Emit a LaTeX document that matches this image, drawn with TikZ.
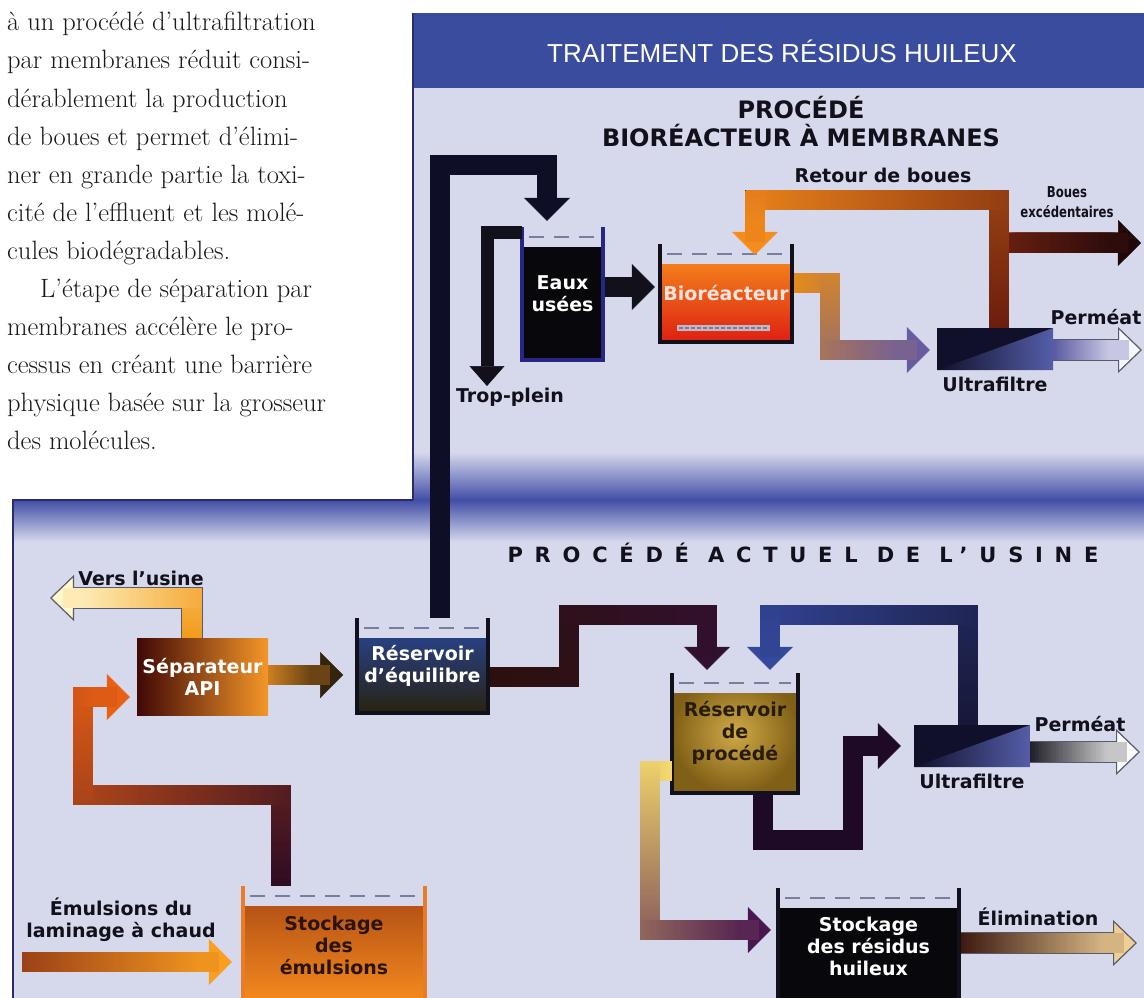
\documentclass[tikz,border=0pt]{standalone}
\usepackage{fontspec}
\setsansfont{DejaVu Sans}
\newfontfamily\headfont{Liberation Sans}
\newfontfamily\condfont{DejaVu Sans}[FakeStretch=0.78]
\newfontfamily\spacedfont{DejaVu Sans}[LetterSpace=56]
\usetikzlibrary{arrows.meta,positioning,decorations.markings}

% colours
\definecolor{panel}{RGB}{214,217,236}
\definecolor{headblue}{RGB}{58,76,158}
\definecolor{bandblue}{RGB}{66,78,166}
\definecolor{frame}{RGB}{40,44,110}
\definecolor{ink}{RGB}{18,16,26}
\definecolor{bodytext}{RGB}{28,24,24}
\definecolor{levelgray}{RGB}{120,126,160}
\definecolor{edge}{RGB}{90,90,104}
\definecolor{wallblue}{RGB}{38,38,132}
\definecolor{wallorange}{RGB}{232,124,40}
\definecolor{tankblack}{RGB}{8,8,12}
\definecolor{bioT}{RGB}{248,150,30}
\definecolor{bioB}{RGB}{222,32,18}
\definecolor{biotext}{RGB}{253,228,222}
\definecolor{reseqT}{RGB}{40,72,160}
\definecolor{reseqB}{RGB}{40,34,16}
\definecolor{procIn}{RGB}{208,170,72}
\definecolor{procOut}{RGB}{128,96,22}
\definecolor{proctext}{RGB}{40,28,8}
\definecolor{emT}{RGB}{170,72,20}
\definecolor{emB}{RGB}{246,140,30}
\definecolor{emtext}{RGB}{42,20,8}
\definecolor{sepdark}{RGB}{64,8,6}
\definecolor{sepmid}{RGB}{176,66,18}
\definecolor{sepor}{RGB}{244,150,40}
\definecolor{ufdark}{RGB}{16,16,42}
\definecolor{uflight}{RGB}{84,94,168}
\definecolor{diffuse}{RGB}{196,182,196}
% pipe colours
\definecolor{navyA}{RGB}{14,14,38}
\definecolor{bioA}{RGB}{232,140,22}
\definecolor{bioZ}{RGB}{104,92,160}
\definecolor{retA}{RGB}{105,28,14}
\definecolor{retZ}{RGB}{246,140,28}
\definecolor{bouA}{RGB}{112,34,16}
\definecolor{bouZ}{RGB}{32,8,10}
\definecolor{perA}{RGB}{72,72,150}
\definecolor{perZ}{RGB}{246,246,255}
\definecolor{verA}{RGB}{242,150,18}
\definecolor{verZ}{RGB}{255,248,205}
\definecolor{sepA}{RGB}{226,140,34}
\definecolor{sepZ}{RGB}{52,36,14}
\definecolor{resA}{RGB}{44,16,12}
\definecolor{resZ}{RGB}{50,16,48}
\definecolor{bluA}{RGB}{22,22,54}
\definecolor{bluZ}{RGB}{52,72,156}
\definecolor{darkpipe}{RGB}{30,10,38}
\definecolor{yelA}{RGB}{250,222,110}
\definecolor{yelZ}{RGB}{74,22,80}
\definecolor{pbA}{RGB}{12,12,22}
\definecolor{pbZ}{RGB}{250,250,250}
\definecolor{elA}{RGB}{52,16,10}
\definecolor{elZ}{RGB}{238,208,150}
\definecolor{emA}{RGB}{150,62,22}
\definecolor{emZ}{RGB}{250,158,32}
\definecolor{stA}{RGB}{44,10,36}
\definecolor{stZ}{RGB}{232,96,20}

\tikzset{
  pipe/.style={line width=20pt,line join=miter,draw=#1,
    -{Triangle[width=46pt,length=23pt,line width=0.5pt,color=#1,fill=#1]}},
  flow/.style 2 args={pipe=#2,draw=#1,
    postaction={decorate,decoration={markings,
      mark=between positions 10pt and -22pt step 1.5pt with {
        \pgfmathtruncatemacro\fr{100*(\pgfkeysvalueof{/pgf/decoration/mark info/distance from start}/\pgfdecoratedpathlength)}
        \fill[draw=none,#2!\fr!#1] ({-0.5*\pgflinewidth},{-0.5*\pgflinewidth}) rectangle ({0.5*\pgflinewidth},{0.5*\pgflinewidth});}}}},
  oflow/.style 2 args={flow={#1}{#2},
    -{Triangle[width=46pt,length=24pt,line width=1.2pt,color=edge,fill=#2]},
    preaction={draw=edge,line width=22.5pt,arrows=-,shorten >=22pt}}
}

\begin{document}
\begin{tikzpicture}[x=1pt,y=-1pt,
  lab/.style={font=\sffamily\bfseries\fontsize{19}{22}\selectfont,text=ink,inner sep=0pt,align=center},
  body/.style={font=\fontsize{26.5}{38}\selectfont\addfontfeature{FakeBold=0.3},text=bodytext,inner sep=0pt},
  level/.style={draw=levelgray,line width=2pt,dash pattern=on 15pt off 10pt},
  wall/.style={line width=4pt,line join=miter},
  tank/.style={rectangle,inner sep=0pt,align=center,
    font=\sffamily\bfseries\fontsize{19}{22}\selectfont,
    path picture={
      \path[#1] ([yshift=-20pt]path picture bounding box.north west) rectangle (path picture bounding box.south east);
      \draw[level] ([xshift=7pt,yshift=-10pt]path picture bounding box.north west) -- ([xshift=-7pt,yshift=-10pt]path picture bounding box.north east);}},
  uf/.style={rectangle,inner sep=0pt,minimum width=116pt,minimum height=42pt,fill=ufdark,
    path picture={\shade[left color=ufdark,right color=uflight] (path picture bounding box.south west) -- (path picture bounding box.north east) -- (path picture bounding box.south east) -- cycle;}},
  sep/.style={rectangle,inner sep=0pt,align=center,minimum width=131pt,minimum height=77pt,
    left color=sepdark,middle color=sepmid,right color=sepor,text=white,
    font=\sffamily\bfseries\fontsize{19}{22}\selectfont}]

\useasboundingbox (0,0) rectangle (1144,998);
\clip (0,0) rectangle (1144,998);

% page and panels
\fill[white] (0,0) rectangle (1144,998);
\fill[panel] (413,13) rectangle (1144,500);
\fill[panel] (13,500) rectangle (1144,998);
\fill[headblue] (413,13) rectangle (1144,88);
\shade[top color=panel,bottom color=bandblue] (413,452) rectangle (1144,500);
\shade[top color=bandblue,bottom color=panel] (13,500) rectangle (1144,542);
\draw[frame,line width=1.5pt] (413,500) -- (413,13);
\draw[frame,line width=1.5pt] (13,998) -- (13,500) -- (413,500);

% text column
\foreach \txt [count=\i from 0] in {à un procédé d’ultrafiltration,par membranes réduit consi-,dérablement la production,de boues et permet d’élimi-,ner en grande partie la toxi-,cité de l’effluent et les molé-,cules biodégradables.,\hspace*{33pt}L’étape de séparation par,membranes accélère le pro-,cessus en créant une barrière,physique basée sur la grosseur,des molécules.}
  \node[body,anchor=base west] (l\i) at (7,{31+38*\i}) {\txt};

% titles
\node[font=\headfont\fontsize{26}{28}\selectfont,text=white,inner sep=0pt] (head) at (782,51) {TRAITEMENT DES RÉSIDUS HUILEUX};
\node[lab,font=\sffamily\bfseries\fontsize{24}{28}\selectfont] (mbr) at (801,122) {PROCÉDÉ\\BIORÉACTEUR À MEMBRANES};
\node[lab,font=\spacedfont\bfseries\fontsize{21}{22}\selectfont] (usine) at (803,553) {PROCÉDÉ ACTUEL DE L’USINE};

% bioreacteur a membranes
\node[tank={fill=tankblack},text=white,minimum width=81pt,minimum height=133pt] (eaux) at (562.5,293.5) {Eaux\\usées};
\node[tank={top color=bioT,bottom color=bioB},text=biotext,minimum width=132pt,minimum height=98pt] (bioreac) at (726,293) {Bioréacteur};
\node[uf] (uftop) at (995,349) {};
\node[lab] (uftopl) [below=7pt of uftop] {Ultrafiltre};
\node[lab] (trop) at (510,397) {Trop-plein};
\node[lab] (retour) at (883,175) {Retour de boues};
\node[lab,font=\condfont\bfseries\fontsize{15}{20}\selectfont] (boues) at (1067,202) {Boues\\excédentaires};
\node[lab] (permtop) at (1096,317) {Perméat};

% procede actuel
\node[lab] (vers) at (141,578) {Vers l’usine};
\node[sep] (sepapi) at (202.5,676.5) {Séparateur\\API};
\node[tank={top color=reseqT,bottom color=reseqB},text=white,minimum width=131pt,minimum height=95pt] (reseq) at (422.5,665.5) {Réservoir\\d’équilibre};
\node[tank={inner color=procIn,outer color=procOut},text=proctext,minimum width=126pt,minimum height=120pt] (resproc) at (735,733) {Réservoir\\de\\procédé};
\node[uf] (ufbot) at (972,746) {};
\node[lab] (ufbotl) [below=7pt of ufbot] {Ultrafiltre};
\node[lab] (permbot) at (1080,724) {Perméat};
\node[tank={fill=tankblack},text=white,minimum width=181pt,minimum height=117pt] (stockres) at (868.5,946.5) {Stockage\\des résidus\\huileux};
\node[lab] (elim) at (1038,917) {Élimination};
\node[tank={top color=emT,bottom color=emB},text=emtext,minimum width=182pt,minimum height=119pt] (stockem) at (334,945.5) {Stockage\\des\\émulsions};
\node[lab] (emul) at (121,920) {Émulsions du\\laminage à chaud};

\foreach \t/\c in {eaux/wallblue,bioreac/ink,reseq/ink,resproc/ink,stockres/ink,stockem/wallorange}
  \draw[wall,draw=\c] (\t.north west) -- (\t.south west) -- (\t.south east) -- (\t.north east);
\fill[diffuse] ([xshift=17pt,yshift=11pt]bioreac.south west) rectangle ++(93,-6);
\draw[levelgray,line width=2pt,dash pattern=on 4pt off 2pt] ([xshift=19pt,yshift=14pt]bioreac.south west) -- ++(89,0);

% free ends
\coordinate (tropend) at (487,386);
\coordinate (bouesend) at (1141,243);
\coordinate (permtopend) at (1142,350);
\coordinate (versend) at (50,598);
\coordinate (permbotend) at (1140,752);
\coordinate (elimend) at (1137,943);
\coordinate (emulstart) at (22,962);

% pipes
\draw[pipe=navyA] ([xshift=17.5pt]reseq.north) -- ++(0,-453) -| ([xshift=-15.5pt,yshift=6pt]eaux.north);
\draw[pipe=ink,line width=13pt,-{Triangle[width=35pt,length=20pt,line width=0.5pt,color=ink,fill=ink]}]
  ([yshift=-6pt]eaux.north west) -| (tropend);
\draw[pipe=ink] ([xshift=2pt,yshift=6.5pt]eaux.east) -- ([xshift=-5pt,yshift=6pt]bioreac.west);
\draw[flow={bioA}{bioZ}] ([xshift=2pt,yshift=10pt]bioreac.east) -- ++(36,0) |- ([xshift=-7pt,yshift=-1pt]uftop.west);
\draw[flow={bouA}{bouZ}] ([xshift=4pt,yshift=85pt]uftop.north) -- (bouesend);
\draw[flow={retA}{retZ}] ([xshift=4pt]uftop.north) -- ++(0,-128) -| ([xshift=29pt,yshift=-11pt]bioreac.north);
\draw[oflow={perA}{perZ}] ([yshift=-1pt]uftop.east) -- (permtopend);

\draw[oflow={verA}{verZ}] ([xshift=-10.5pt]sepapi.north) |- (versend);
\draw[flow={sepA}{sepZ}] ([yshift=1.5pt]sepapi.east) -- ++(75,0);
\draw[flow={resA}{resZ}] ([xshift=2pt,yshift=-11.5pt]reseq.east) -- ++(79,0) -- ++(0,-62) -| ([xshift=-28pt,yshift=3pt]resproc.north);
\draw[flow={bluA}{bluZ}] ([xshift=-4pt]ufbot.north) -- ++(0,-110) -| ([xshift=35pt,yshift=3pt]resproc.north);
\draw[pipe=darkpipe] ([xshift=28pt]resproc.south) -- ++(0,47) -- ++(90,0) |- ([xshift=-13pt]ufbot.west);
\draw[flow={yelA}{yelZ}] ([yshift=-38pt]resproc.west) -- ++(-22,0) |- ([xshift=-7pt,yshift=16.5pt]stockres.west);
\draw[oflow={pbA}{pbZ}] ([yshift=-6pt]ufbot.east) -- (permbotend);
\draw[oflow={elA}{elZ}] ([xshift=2pt,yshift=3.5pt]stockres.east) -- (elimend);
\draw[flow={emA}{emZ}] (emulstart) -- ([xshift=-11pt,yshift=-16.5pt]stockem.west);
\draw[flow={stA}{stZ}] ([xshift=-53pt]stockem.north) -- ++(0,-91) -- ++(-198,0) |- ([xshift=-7pt,yshift=-20.5pt]sepapi.west);
\end{tikzpicture}
\end{document}
